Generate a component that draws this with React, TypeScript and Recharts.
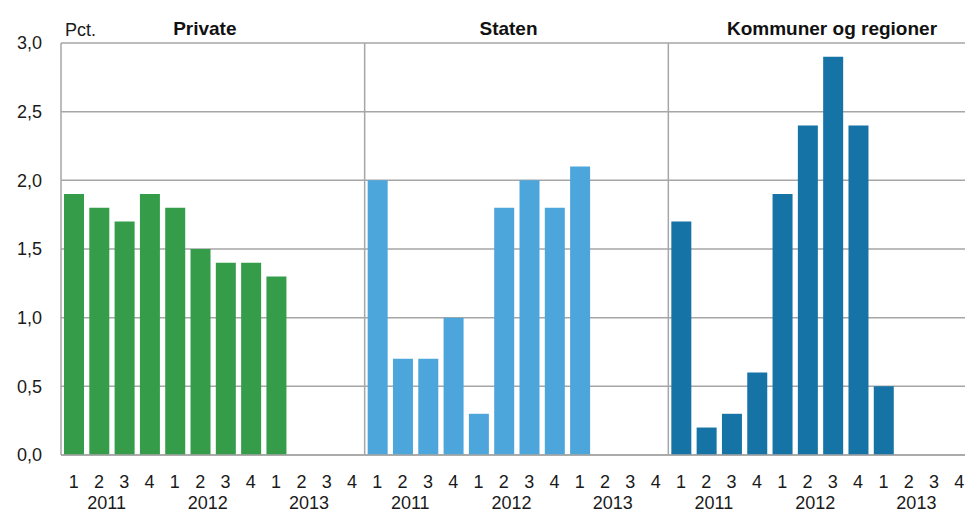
import { Bar, BarChart, CartesianGrid, XAxis, YAxis } from "recharts";

const years = ["2011", "2012", "2013"];
const quarters = ["1", "2", "3", "4"];
const panelTitles = ["Private", "Staten", "Kommuner og regioner"];

// Pct., per quarter 2011 Q1 .. 2013 Q4 (null = no data yet)
const privateValues = [1.9, 1.8, 1.7, 1.9, 1.8, 1.5, 1.4, 1.4, 1.3, null, null, null];
const statenValues = [2.0, 0.7, 0.7, 1.0, 0.3, 1.8, 2.0, 1.8, 2.1, null, null, null];
const kommunerValues = [1.7, 0.2, 0.3, 0.6, 1.9, 2.4, 2.9, 2.4, 0.5, null, null, null];

const yTicks = [0, 0.5, 1, 1.5, 2, 2.5, 3];

const panelValues = [privateValues, statenValues, kommunerValues];
const seriesKeys = ["private", "staten", "kommuner"];
const colors = ["#359d4a", "#4ca6dc", "#1573a6"];

type Row = {
  id: string;
  quarter: string;
  year: string;
  private: number | null;
  staten: number | null;
  kommuner: number | null;
};

const rows: Row[] = [];
panelValues.forEach((values, p) => {
  years.forEach((year, y) => {
    quarters.forEach((quarter, q) => {
      const v = values[y * 4 + q];
      rows.push({
        id: `${p}-${year}-${quarter}`,
        quarter,
        year,
        private: p === 0 ? v : null,
        staten: p === 1 ? v : null,
        kommuner: p === 2 ? v : null,
      });
    });
  });
});

const FONT = "'Liberation Sans', Arial, sans-serif";

const CHART_W = 975;
const CHART_H = 514;
const MARGIN = { top: 43, right: 3, bottom: 0, left: 0 };
const Y_WIDTH = 61;
const X_HEIGHT = 59;
const plotLeft = MARGIN.left + Y_WIDTH;
const plotWidth = CHART_W - MARGIN.right - plotLeft;
const catWidth = plotWidth / rows.length;

function QuarterTick(props: any) {
  const { x, y, index } = props;
  const row = rows[index];
  if (!row) return null;
  return (
    <g>
      <text
        x={x}
        y={y + 31}
        textAnchor="middle"
        fontFamily={FONT}
        fontSize={18}
        fill="#1a1a1a"
      >
        {row.quarter}
      </text>
      {row.quarter === "2" && (
        <text
          x={x + catWidth / 2 - 5}
          y={y + 52}
          textAnchor="middle"
          fontFamily={FONT}
          fontSize={18}
          fill="#1a1a1a"
        >
          {row.year}
        </text>
      )}
    </g>
  );
}

function formatTick(value: number) {
  return value.toFixed(1).replace(".", ",");
}

export default function App() {
  return (
    <div
      style={{
        position: "absolute",
        left: 0,
        top: 0,
        width: 965,
        height: 514,
        overflow: "hidden",
        background: "#fff",
      }}
    >
      <BarChart
        width={CHART_W}
        height={CHART_H}
        data={rows}
        margin={MARGIN}
        barSize={20}
      >
        <CartesianGrid
          stroke="#a6a6a6"
          strokeWidth={1.5}
          verticalCoordinatesGenerator={({ offset }: any) =>
            [1, 2].map((k) => offset.left + (offset.width * k) / 3)
          }
        />
        <XAxis
          dataKey="id"
          height={X_HEIGHT}
          interval={0}
          tickLine={false}
          tickSize={0}
          axisLine={{ stroke: "#a6a6a6", strokeWidth: 1.5 }}
          tick={<QuarterTick />}
        />
        <YAxis
          width={Y_WIDTH}
          domain={[0, 3]}
          ticks={yTicks}
          tickFormatter={formatTick}
          tickLine={false}
          tickSize={0}
          tickMargin={19}
          axisLine={{ stroke: "#a6a6a6", strokeWidth: 1.5 }}
          tick={{ fill: "#1a1a1a", fontSize: 18, fontFamily: FONT }}
        />
        {seriesKeys.map((key, i) => (
          <Bar
            key={key}
            dataKey={key}
            name={panelTitles[i]}
            stackId="panel"
            fill={colors[i]}
            isAnimationActive={false}
          />
        ))}
      </BarChart>
      <svg
        width={965}
        height={514}
        style={{ position: "absolute", left: 0, top: 0, pointerEvents: "none" }}
      >
        <text x={65} y={36} fontFamily={FONT} fontSize={18} fill="#1a1a1a">
          Pct.
        </text>
        {panelTitles.map((title, i) => (
          <text
            key={title}
            x={i === 2 ? 832 : plotLeft + (plotWidth * (i + 0.5)) / 3 - 8}
            y={35}
            textAnchor="middle"
            fontFamily={FONT}
            fontSize={19}
            fontWeight="bold"
            fill="#111"
          >
            {title}
          </text>
        ))}
      </svg>
    </div>
  );
}
